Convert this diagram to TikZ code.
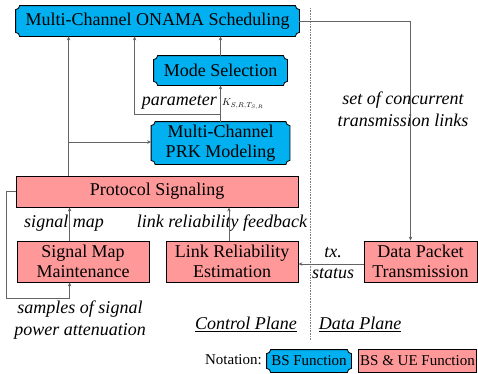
\documentclass[tikz,border=0pt]{standalone}
\usepackage{fontspec}
\setmainfont{Liberation Serif}
\usetikzlibrary{arrows.meta,calc}
\makeatletter
\pgfdeclareshape{bsshape}{
  \inheritsavedanchors[from=rectangle]
  \inheritanchorborder[from=rectangle]
  \inheritanchor[from=rectangle]{center}
  \inheritanchor[from=rectangle]{north}
  \inheritanchor[from=rectangle]{south}
  \inheritanchor[from=rectangle]{east}
  \inheritanchor[from=rectangle]{west}
  \inheritanchor[from=rectangle]{north east}
  \inheritanchor[from=rectangle]{north west}
  \inheritanchor[from=rectangle]{south east}
  \inheritanchor[from=rectangle]{south west}
  \inheritanchor[from=rectangle]{text}
  \inheritanchor[from=rectangle]{base}
  \inheritanchor[from=rectangle]{mid}
  \backgroundpath{
    \southwest \edef\bsxa{\the\pgf@x}\edef\bsya{\the\pgf@y}
    \northeast \edef\bsxb{\the\pgf@x}\edef\bsyb{\the\pgf@y}
    \def\bsr{4pt}
    \pgfpathmoveto{\pgfpoint{\bsxa+\bsr}{\bsyb}}
    \pgfpathlineto{\pgfpoint{\bsxb-\bsr}{\bsyb}}
    \pgfpatharc{180}{270}{\bsr}
    \pgfpathlineto{\pgfpoint{\bsxb}{\bsya+\bsr}}
    \pgfpatharc{90}{180}{\bsr}
    \pgfpathlineto{\pgfpoint{\bsxa+\bsr}{\bsya}}
    \pgfpatharc{0}{90}{\bsr}
    \pgfpathlineto{\pgfpoint{\bsxa}{\bsyb-\bsr}}
    \pgfpatharc{270}{360}{\bsr}
    \pgfpathclose
  }
}
\makeatother
\definecolor{bsblue}{RGB}{0,176,240}
\definecolor{uepink}{RGB}{255,153,153}
\definecolor{lgray}{RGB}{100,100,100}
\tikzset{
  bs/.style={shape=bsshape, draw=black, fill=bsblue, line width=0.8pt, align=center,
    inner sep=0pt, font=\fontsize{18}{20.5}\selectfont},
  ue/.style={shape=rectangle, draw=black, fill=uepink, line width=0.8pt, align=center,
    inner sep=0pt, font=\fontsize{18}{20.5}\selectfont},
  arr/.style={draw=lgray, line width=0.7pt, -{Stealth[length=4pt,width=3.5pt]}},
  lab/.style={font=\fontsize{18}{22}\selectfont\itshape, inner sep=0pt, align=center},
}
\begin{document}
\begin{tikzpicture}[x=1pt,y=-1pt]
\useasboundingbox (0,0) rectangle (478,373);
% nodes
\node[bs, minimum width=283pt, minimum height=30pt] (onama) at (157.5,21) {Multi-Channel ONAMA Scheduling};
\node[bs, minimum width=133pt, minimum height=29pt] (mode) at (220.5,70.5) {Mode Selection};
\node[bs, minimum width=138pt, minimum height=42pt] (prk) at (220.5,143) {Multi-Channel\\PRK Modeling};
\node[ue, minimum width=282pt, minimum height=31pt] (proto) at (157,191.5) {Protocol Signaling};
\node[ue, minimum width=132pt, minimum height=41pt] (smm) at (83,261.5) {Signal Map\\Maintenance};
\node[ue, minimum width=132pt, minimum height=41pt] (lre) at (232,261.5) {Link Reliability\\Estimation};
\node[ue, minimum width=113pt, minimum height=41pt] (dpt) at (420.5,261.5) {Data Packet\\Transmission};
% labels
\node[lab, anchor=east] (lpar) at (217,102) {parameter};
\node[anchor=west, inner sep=0pt, font=\fontsize{10}{10}\selectfont] (lk) at (222,104) {$K_{S,R,T_{S,R}}$};
\node[lab] (lset) at (403,109) {set of concurrent\\transmission links};
\node[lab] (lsig) at (64,223) {signal map};
\node[lab] (lfb) at (222,223) {link reliability feedback};
\node[lab] (lsam) at (80,320) {samples of signal\\power attenuation};
\node[lab] (ltx) at (333,253) {tx.};
\node[lab] (lst) at (333,274) {status};
\node[lab] (lcp) at (246,324) {\underline{Control Plane}};
\node[lab] (ldp) at (360,324) {\underline{Data Plane}};
% notation
\node[font=\fontsize{15}{17}\selectfont, inner sep=0pt, anchor=east] (lnot) at (262,360) {Notation:};
\node[bs, font=\fontsize{15}{17}\selectfont, minimum width=84pt, minimum height=22pt] (nbs) at (309,361) {BS Function};
\node[ue, font=\fontsize{15}{17}\selectfont, minimum width=118pt, minimum height=23pt] (nue) at (417.5,360.5) {BS \& UE Function};
% plane divider
\draw[lgray!80, line width=1pt, dash pattern=on 0.8pt off 0.8pt] (310,8) -- (310,340);
% connectors
\coordinate (p1) at (220.5,114);
\coordinate (p3) at (69,142);
\draw[arr] (mode.north) -- (mode.north |- onama.south);
\draw[arr] (prk.north) -- (mode.south);
\draw[arr] (p1) -| ([xshift=119pt]onama.south west);
\draw[arr] ([xshift=53pt]proto.north west) -- ([xshift=53pt]onama.south west);
\draw[arr] (p3) -- (prk.west |- p3);
\draw[arr] ([xshift=53pt]smm.north west) -- ([xshift=53pt]smm.north west |- proto.south);
\draw[arr] ([xshift=-3pt]lre.north) -- ([xshift=-3pt]lre.north |- proto.south);
\draw[arr] (proto.west) -- ++(-9pt,0) |- ([xshift=53pt, yshift=-16pt]smm.south west) -- ([xshift=53pt]smm.south west);
\draw[arr] (onama.east) -| ([xshift=-10pt]dpt.north);
\draw[arr] ([yshift=-2.5pt]dpt.west) -- ([yshift=-2.5pt]lre.east);
\end{tikzpicture}
\end{document}
